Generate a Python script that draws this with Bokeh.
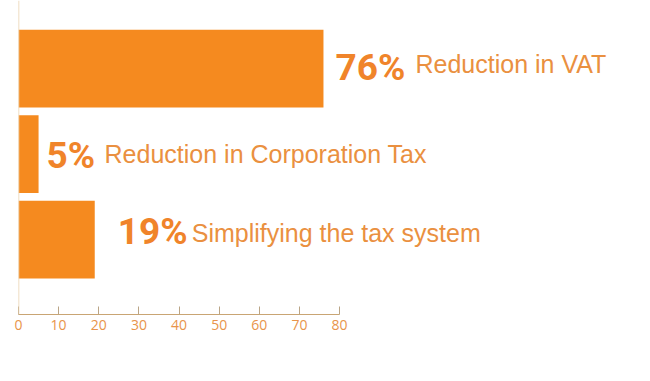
from bokeh.plotting import figure
from bokeh.models import ColumnDataSource, Span, FixedTicker
from bokeh.core.properties import value
from bokeh.embed import file_html
from bokeh.resources import INLINE

# data
labels = ["Reduction in VAT", "Reduction in Corporation Tax", "Simplifying the tax system"]
values = [76, 5, 19]
pct_text = ["76%", "5%", "19%"]
rows = [2, 1, 0]
ticks = [0, 10, 20, 30, 40, 50, 60, 70, 80]

# layout tweaks (screen pixels)
pct_dx = [12, 8, 23]
pct_dy = [-1, 1, -8]
lab_dx = [92, 66, 97]
lab_dy = [-5, 0, -7]

src = ColumnDataSource(dict(y=rows, v=values, pct=pct_text, lab=labels,
                            pdx=pct_dx, pdy=pct_dy, ldx=lab_dx, ldy=lab_dy))

p = figure(frame_width=630, frame_height=314, output_backend="svg", toolbar_location=None,
           x_range=(0, 157.0), y_range=(-0.877, 2.796),
           min_border_left=18, min_border_right=0, min_border_top=0, min_border_bottom=10)

p.hbar(y="y", right="v", left=0, height=0.91, source=src, color="#f58a1f", line_color=None)

p.text(x="v", y="y", text="pct", source=src, x_offset="pdx", y_offset="pdy",
       text_font=value("Roboto"), text_font_style="bold",
       text_font_size="37px", text_color="#f0842a", text_baseline="alphabetic", text_align="left")
p.text(x="v", y="y", text="lab", source=src, x_offset="ldx", y_offset="ldy",
       text_font=value("Liberation Sans"), text_font_size="25px",
       text_color="#ea9040", text_baseline="alphabetic", text_align="left")

p.add_layout(Span(location=0, dimension="height", line_color="#ead2ae", line_width=1.5))

p.yaxis.visible = False
p.grid.visible = False
p.outline_line_color = None
ax = p.xaxis[0]
ax.ticker = FixedTicker(ticks=ticks)
ax.bounds = (0, 80)
ax.minor_tick_line_color = None
ax.major_tick_in = 8
ax.major_tick_out = 0
ax.axis_line_color = "#c9a574"
ax.major_tick_line_color = "#b9a486"
ax.major_label_text_color = "#e8944a"
ax.major_label_text_font = "Open Sans"
ax.major_label_text_font_size = "14px"
ax.major_label_standoff = 5

open("out.html", "w").write(file_html(p, INLINE))
